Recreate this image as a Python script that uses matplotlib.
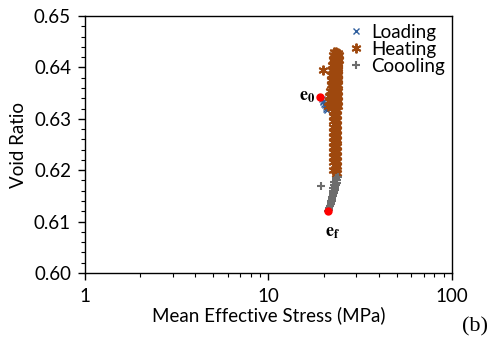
import matplotlib
matplotlib.use('Agg')
import matplotlib.pyplot as plt
from matplotlib.ticker import MultipleLocator, LogLocator, NullFormatter

plt.rcParams['font.family'] = ['Lato', 'DejaVu Sans']
plt.rcParams['mathtext.fontset'] = 'stix'

# Loading stage (mean effective stress MPa, void ratio)
load_p = [19.5, 19.7, 19.9, 20.1, 20.3, 20.5, 20.7, 20.9]
load_e = [0.6338, 0.6335, 0.6332, 0.6329, 0.6326, 0.6323, 0.6320, 0.6318]

# Heating stage: up-branch then the dense vertical band
heat_p = [21.2, 21.3, 21.5, 21.6, 21.8, 21.9, 22.0, 22.2, 22.3, 22.5, 22.6, 22.8,
          22.0, 22.1, 22.2, 22.3, 22.4, 22.5, 22.6, 22.7, 22.8, 22.9, 23.0,
          23.2, 23.2, 23.1, 23.1, 23.0, 23.0, 23.0, 22.9, 22.9, 22.9, 22.9, 22.9,
          22.9, 22.9, 22.9, 22.9, 22.9, 22.9, 22.9, 22.9, 22.9, 22.9, 22.9, 22.9,
          23.9, 23.9, 23.8, 23.8, 23.8, 23.8, 23.7, 23.7, 23.7, 23.7, 23.7, 23.7,
          23.6, 23.6, 23.6, 23.6, 23.6, 23.6, 23.6, 23.6, 23.6, 23.6, 23.6, 23.6,
          23.3, 23.3, 23.3, 23.3, 23.3, 23.3, 23.3, 23.3, 23.3, 23.3, 23.3, 23.3,
          23.4, 23.4, 23.4, 23.4, 23.4, 23.4, 23.4, 23.4, 23.4, 23.4, 23.4,
          24.1, 24.1, 24.0, 24.0, 24.0, 24.0, 24.0, 24.0, 24.0, 24.0, 24.0,
          22.6, 22.6, 22.6, 22.6, 22.6, 22.6, 22.6, 22.6, 22.6, 22.6, 22.6, 22.6,
          19.7]
heat_e = [0.6325, 0.6335, 0.6345, 0.6355, 0.6365, 0.6375, 0.6385, 0.6395, 0.6405, 0.6415, 0.6425, 0.6430,
          0.6330, 0.6340, 0.6350, 0.6360, 0.6370, 0.6380, 0.6390, 0.6400, 0.6410, 0.6420, 0.6428,
          0.6430, 0.6420, 0.6410, 0.6400, 0.6390, 0.6380, 0.6370, 0.6360, 0.6350, 0.6340, 0.6330, 0.6320,
          0.6310, 0.6300, 0.6290, 0.6280, 0.6270, 0.6260, 0.6250, 0.6240, 0.6230, 0.6220, 0.6210, 0.6200,
          0.6428, 0.6418, 0.6408, 0.6398, 0.6388, 0.6378, 0.6368, 0.6358, 0.6348, 0.6338, 0.6328, 0.6318,
          0.6308, 0.6298, 0.6288, 0.6278, 0.6268, 0.6258, 0.6248, 0.6238, 0.6228, 0.6218, 0.6208, 0.6195,
          0.6305, 0.6295, 0.6285, 0.6275, 0.6265, 0.6255, 0.6245, 0.6235, 0.6225, 0.6215, 0.6205, 0.6192,
          0.6425, 0.6415, 0.6405, 0.6395, 0.6385, 0.6375, 0.6365, 0.6355, 0.6345, 0.6335, 0.6315,
          0.6425, 0.6415, 0.6405, 0.6395, 0.6385, 0.6375, 0.6365, 0.6355, 0.6345, 0.6335, 0.6325,
          0.6315, 0.6305, 0.6295, 0.6285, 0.6275, 0.6265, 0.6255, 0.6245, 0.6235, 0.6225, 0.6215, 0.6200,
          0.6395]

# Cooling stage
cool_p = [23.4, 23.3, 23.2, 23.1, 23.0, 22.8, 22.6, 22.4, 22.2, 22.0, 21.8, 21.6, 21.4, 21.2,
          22.8, 22.7, 22.6, 22.5, 22.4, 22.3, 22.1, 21.9, 21.7, 21.5, 21.4,
          23.8, 23.7, 23.5, 23.3, 23.1, 22.9, 22.7, 22.5, 22.3, 22.1, 21.9,
          19.3]
cool_e = [0.6185, 0.6180, 0.6175, 0.6170, 0.6165, 0.6160, 0.6155, 0.6150, 0.6145, 0.6140, 0.6135, 0.6130, 0.6125, 0.6120,
          0.6178, 0.6172, 0.6166, 0.6160, 0.6154, 0.6148, 0.6142, 0.6136, 0.6130, 0.6126, 0.6122,
          0.6186, 0.6181, 0.6176, 0.6171, 0.6166, 0.6161, 0.6156, 0.6151, 0.6146, 0.6141, 0.6136,
          0.6170]

# Initial and final states
e0_point = (19.2, 0.6342)
ef_point = (21.2, 0.6121)

fig = plt.figure(figsize=(5.02, 3.45), dpi=100)
ax = fig.add_axes([0.1693, 0.2087, 0.7311, 0.7449])

ax.plot(load_p, load_e, 'x', color='#2f5f9e', markersize=4, mew=1.0, label='Loading', linestyle='none')
ax.plot(heat_p, heat_e, marker=(6, 2, 0), color='#9e480e', markersize=7, mew=1.4, label='Heating', linestyle='none')
ax.plot(cool_p, cool_e, '+', color='#6d6d6d', markersize=6, mew=1.5, label='Coooling', linestyle='none')
ax.plot([e0_point[0], ef_point[0]], [e0_point[1], ef_point[1]], 'o', color='#ff0000',
        markersize=5, linestyle='none', zorder=5)

ax.text(18.0, 0.6342, r'$\mathbf{e_0}$', fontsize=13, ha='right', va='center')
ax.text(22.3, 0.6078, r'$\mathbf{e_f}$', fontsize=13, ha='center', va='center')

ax.set_xscale('log')
ax.set_xlim(1, 100)
ax.set_ylim(0.60, 0.65)
ax.set_xticks([1, 10, 100])
ax.set_xticklabels(['1', '10', '100'])
ax.xaxis.set_minor_locator(LogLocator(base=10, subs=range(2, 10)))
ax.xaxis.set_minor_formatter(NullFormatter())
ax.yaxis.set_major_locator(MultipleLocator(0.01))
ax.yaxis.set_minor_locator(MultipleLocator(0.002))
ax.yaxis.set_major_formatter(plt.FormatStrFormatter('%.2f'))

ax.tick_params(which='major', direction='out', length=5, width=1, labelsize=13.5, pad=6)
ax.tick_params(axis='y', which='major', pad=5)
ax.tick_params(which='minor', direction='out', length=3, width=0.8)
for s in ax.spines.values():
    s.set_linewidth(1.0)

ax.set_xlabel('Mean Effective Stress (MPa)', fontsize=13.5, labelpad=1)
ax.set_ylabel('Void Ratio', fontsize=13.5, labelpad=5)

ax.legend(loc='upper right', frameon=False, fontsize=13.5, handletextpad=0.3,
          handlelength=1.0, borderaxespad=0.0, labelspacing=0.0)

fig.text(0.92, 0.04, '(b)', fontsize=16, family='Liberation Serif')

fig.savefig('out.png', dpi=100)
